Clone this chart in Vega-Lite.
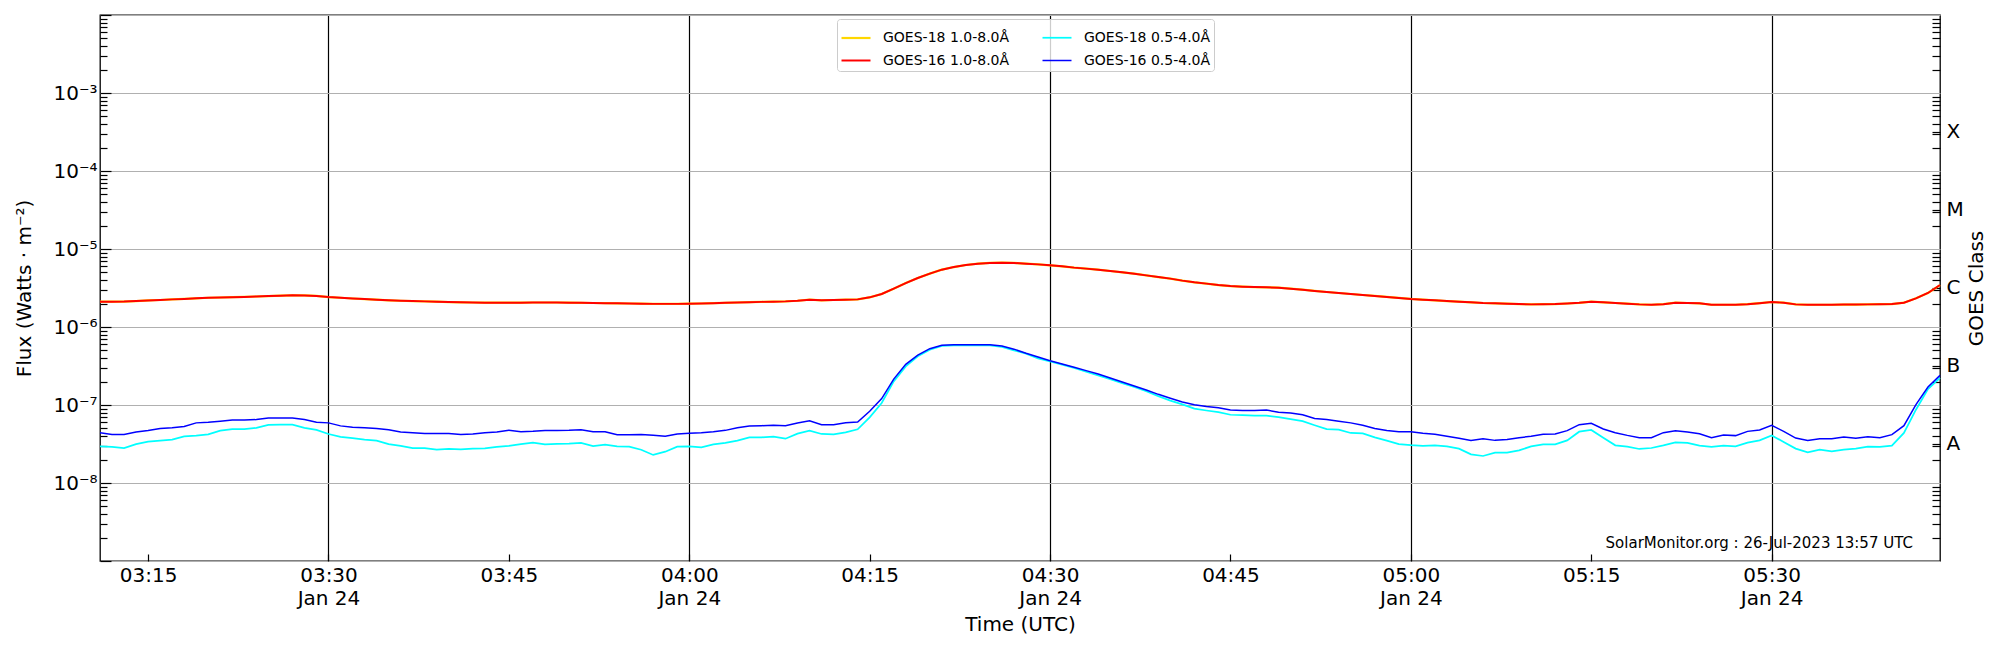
{
  "$schema": "https://vega.github.io/schema/vega-lite/v6.json",
  "autosize": {"type": "none"},
  "padding": {"left": 100, "top": 15, "right": 60, "bottom": 89},
  "width": 1840,
  "height": 546,
  "config": {
    "font": "DejaVu Sans",
    "view": {"stroke": "black", "strokeWidth": 1.3},
    "axis": {
      "domain": false,
      "labelFontSize": 20,
      "titleFontSize": 20,
      "titleFontWeight": "normal",
      "labelColor": "black",
      "titleColor": "black",
      "tickColor": "black",
      "tickWidth": 1.2,
      "labelOverlap": false,
      "labelFlush": false
    }
  },
  "layer": [
    {
      "data": {
        "format": {"parse": {"t": "utc:'%Y-%m-%d %H:%M'"}},
        "values": [
          {"t": "2024-01-24 03:11", "g18l": 2.11e-6, "g16l": 2.11e-6, "g18s": 2.95e-8, "g16s": 4.4e-8},
          {"t": "2024-01-24 03:12", "g18l": 2.11e-6, "g16l": 2.11e-6, "g18s": 2.9e-8, "g16s": 4.2e-8},
          {"t": "2024-01-24 03:13", "g18l": 2.12e-6, "g16l": 2.12e-6, "g18s": 2.8e-8, "g16s": 4.2e-8},
          {"t": "2024-01-24 03:14", "g18l": 2.15e-6, "g16l": 2.15e-6, "g18s": 3.15e-8, "g16s": 4.5e-8},
          {"t": "2024-01-24 03:15", "g18l": 2.19e-6, "g16l": 2.19e-6, "g18s": 3.4e-8, "g16s": 4.7e-8},
          {"t": "2024-01-24 03:16", "g18l": 2.22e-6, "g16l": 2.22e-6, "g18s": 3.5e-8, "g16s": 5.0e-8},
          {"t": "2024-01-24 03:17", "g18l": 2.26e-6, "g16l": 2.26e-6, "g18s": 3.6e-8, "g16s": 5.1e-8},
          {"t": "2024-01-24 03:18", "g18l": 2.29e-6, "g16l": 2.29e-6, "g18s": 3.95e-8, "g16s": 5.3e-8},
          {"t": "2024-01-24 03:19", "g18l": 2.33e-6, "g16l": 2.33e-6, "g18s": 4.05e-8, "g16s": 5.9e-8},
          {"t": "2024-01-24 03:20", "g18l": 2.37e-6, "g16l": 2.37e-6, "g18s": 4.2e-8, "g16s": 6.0e-8},
          {"t": "2024-01-24 03:21", "g18l": 2.39e-6, "g16l": 2.39e-6, "g18s": 4.7e-8, "g16s": 6.2e-8},
          {"t": "2024-01-24 03:22", "g18l": 2.41e-6, "g16l": 2.41e-6, "g18s": 4.9e-8, "g16s": 6.4e-8},
          {"t": "2024-01-24 03:23", "g18l": 2.43e-6, "g16l": 2.43e-6, "g18s": 4.9e-8, "g16s": 6.4e-8},
          {"t": "2024-01-24 03:24", "g18l": 2.46e-6, "g16l": 2.46e-6, "g18s": 5.1e-8, "g16s": 6.5e-8},
          {"t": "2024-01-24 03:25", "g18l": 2.49e-6, "g16l": 2.49e-6, "g18s": 5.55e-8, "g16s": 6.8e-8},
          {"t": "2024-01-24 03:26", "g18l": 2.52e-6, "g16l": 2.52e-6, "g18s": 5.6e-8, "g16s": 6.8e-8},
          {"t": "2024-01-24 03:27", "g18l": 2.55e-6, "g16l": 2.55e-6, "g18s": 5.6e-8, "g16s": 6.8e-8},
          {"t": "2024-01-24 03:28", "g18l": 2.54e-6, "g16l": 2.54e-6, "g18s": 5.1e-8, "g16s": 6.5e-8},
          {"t": "2024-01-24 03:29", "g18l": 2.50e-6, "g16l": 2.50e-6, "g18s": 4.8e-8, "g16s": 6.0e-8},
          {"t": "2024-01-24 03:30", "g18l": 2.42e-6, "g16l": 2.42e-6, "g18s": 4.25e-8, "g16s": 5.9e-8},
          {"t": "2024-01-24 03:31", "g18l": 2.37e-6, "g16l": 2.37e-6, "g18s": 3.9e-8, "g16s": 5.4e-8},
          {"t": "2024-01-24 03:32", "g18l": 2.32e-6, "g16l": 2.32e-6, "g18s": 3.75e-8, "g16s": 5.2e-8},
          {"t": "2024-01-24 03:33", "g18l": 2.28e-6, "g16l": 2.28e-6, "g18s": 3.6e-8, "g16s": 5.1e-8},
          {"t": "2024-01-24 03:34", "g18l": 2.24e-6, "g16l": 2.24e-6, "g18s": 3.5e-8, "g16s": 5.0e-8},
          {"t": "2024-01-24 03:35", "g18l": 2.20e-6, "g16l": 2.20e-6, "g18s": 3.15e-8, "g16s": 4.8e-8},
          {"t": "2024-01-24 03:36", "g18l": 2.17e-6, "g16l": 2.17e-6, "g18s": 3.0e-8, "g16s": 4.5e-8},
          {"t": "2024-01-24 03:37", "g18l": 2.15e-6, "g16l": 2.15e-6, "g18s": 2.8e-8, "g16s": 4.4e-8},
          {"t": "2024-01-24 03:38", "g18l": 2.13e-6, "g16l": 2.13e-6, "g18s": 2.8e-8, "g16s": 4.3e-8},
          {"t": "2024-01-24 03:39", "g18l": 2.11e-6, "g16l": 2.11e-6, "g18s": 2.67e-8, "g16s": 4.3e-8},
          {"t": "2024-01-24 03:40", "g18l": 2.09e-6, "g16l": 2.09e-6, "g18s": 2.73e-8, "g16s": 4.3e-8},
          {"t": "2024-01-24 03:41", "g18l": 2.07e-6, "g16l": 2.07e-6, "g18s": 2.7e-8, "g16s": 4.2e-8},
          {"t": "2024-01-24 03:42", "g18l": 2.06e-6, "g16l": 2.06e-6, "g18s": 2.76e-8, "g16s": 4.25e-8},
          {"t": "2024-01-24 03:43", "g18l": 2.05e-6, "g16l": 2.05e-6, "g18s": 2.78e-8, "g16s": 4.4e-8},
          {"t": "2024-01-24 03:44", "g18l": 2.05e-6, "g16l": 2.05e-6, "g18s": 2.9e-8, "g16s": 4.5e-8},
          {"t": "2024-01-24 03:45", "g18l": 2.05e-6, "g16l": 2.05e-6, "g18s": 3.0e-8, "g16s": 4.75e-8},
          {"t": "2024-01-24 03:46", "g18l": 2.05e-6, "g16l": 2.05e-6, "g18s": 3.15e-8, "g16s": 4.55e-8},
          {"t": "2024-01-24 03:47", "g18l": 2.06e-6, "g16l": 2.06e-6, "g18s": 3.3e-8, "g16s": 4.6e-8},
          {"t": "2024-01-24 03:48", "g18l": 2.06e-6, "g16l": 2.06e-6, "g18s": 3.13e-8, "g16s": 4.7e-8},
          {"t": "2024-01-24 03:49", "g18l": 2.06e-6, "g16l": 2.06e-6, "g18s": 3.17e-8, "g16s": 4.7e-8},
          {"t": "2024-01-24 03:50", "g18l": 2.05e-6, "g16l": 2.05e-6, "g18s": 3.19e-8, "g16s": 4.73e-8},
          {"t": "2024-01-24 03:51", "g18l": 2.04e-6, "g16l": 2.04e-6, "g18s": 3.26e-8, "g16s": 4.83e-8},
          {"t": "2024-01-24 03:52", "g18l": 2.03e-6, "g16l": 2.03e-6, "g18s": 2.98e-8, "g16s": 4.55e-8},
          {"t": "2024-01-24 03:53", "g18l": 2.02e-6, "g16l": 2.02e-6, "g18s": 3.1e-8, "g16s": 4.55e-8},
          {"t": "2024-01-24 03:54", "g18l": 2.01e-6, "g16l": 2.01e-6, "g18s": 2.95e-8, "g16s": 4.17e-8},
          {"t": "2024-01-24 03:55", "g18l": 2.00e-6, "g16l": 2.00e-6, "g18s": 2.92e-8, "g16s": 4.17e-8},
          {"t": "2024-01-24 03:56", "g18l": 1.99e-6, "g16l": 1.99e-6, "g18s": 2.67e-8, "g16s": 4.2e-8},
          {"t": "2024-01-24 03:57", "g18l": 1.98e-6, "g16l": 1.98e-6, "g18s": 2.29e-8, "g16s": 4.08e-8},
          {"t": "2024-01-24 03:58", "g18l": 1.98e-6, "g16l": 1.98e-6, "g18s": 2.52e-8, "g16s": 3.97e-8},
          {"t": "2024-01-24 03:59", "g18l": 1.98e-6, "g16l": 1.98e-6, "g18s": 2.92e-8, "g16s": 4.25e-8},
          {"t": "2024-01-24 04:00", "g18l": 1.99e-6, "g16l": 1.99e-6, "g18s": 2.95e-8, "g16s": 4.33e-8},
          {"t": "2024-01-24 04:01", "g18l": 2.00e-6, "g16l": 2.00e-6, "g18s": 2.87e-8, "g16s": 4.42e-8},
          {"t": "2024-01-24 04:02", "g18l": 2.02e-6, "g16l": 2.02e-6, "g18s": 3.13e-8, "g16s": 4.55e-8},
          {"t": "2024-01-24 04:03", "g18l": 2.04e-6, "g16l": 2.04e-6, "g18s": 3.26e-8, "g16s": 4.73e-8},
          {"t": "2024-01-24 04:04", "g18l": 2.06e-6, "g16l": 2.06e-6, "g18s": 3.49e-8, "g16s": 5.12e-8},
          {"t": "2024-01-24 04:05", "g18l": 2.08e-6, "g16l": 2.08e-6, "g18s": 3.85e-8, "g16s": 5.38e-8},
          {"t": "2024-01-24 04:06", "g18l": 2.10e-6, "g16l": 2.10e-6, "g18s": 3.85e-8, "g16s": 5.43e-8},
          {"t": "2024-01-24 04:07", "g18l": 2.11e-6, "g16l": 2.11e-6, "g18s": 3.93e-8, "g16s": 5.49e-8},
          {"t": "2024-01-24 04:08", "g18l": 2.13e-6, "g16l": 2.13e-6, "g18s": 3.7e-8, "g16s": 5.43e-8},
          {"t": "2024-01-24 04:09", "g18l": 2.17e-6, "g16l": 2.17e-6, "g18s": 4.29e-8, "g16s": 5.87e-8},
          {"t": "2024-01-24 04:10", "g18l": 2.24e-6, "g16l": 2.24e-6, "g18s": 4.69e-8, "g16s": 6.29e-8},
          {"t": "2024-01-24 04:11", "g18l": 2.20e-6, "g16l": 2.20e-6, "g18s": 4.25e-8, "g16s": 5.6e-8},
          {"t": "2024-01-24 04:12", "g18l": 2.22e-6, "g16l": 2.22e-6, "g18s": 4.21e-8, "g16s": 5.6e-8},
          {"t": "2024-01-24 04:13", "g18l": 2.24e-6, "g16l": 2.24e-6, "g18s": 4.46e-8, "g16s": 5.94e-8},
          {"t": "2024-01-24 04:14", "g18l": 2.26e-6, "g16l": 2.26e-6, "g18s": 4.88e-8, "g16s": 6.05e-8},
          {"t": "2024-01-24 04:15", "g18l": 2.40e-6, "g16l": 2.40e-6, "g18s": 6.95e-8, "g16s": 8.3e-8},
          {"t": "2024-01-24 04:16", "g18l": 2.65e-6, "g16l": 2.65e-6, "g18s": 1.06e-7, "g16s": 1.21e-7},
          {"t": "2024-01-24 04:17", "g18l": 3.10e-6, "g16l": 3.10e-6, "g18s": 2.01e-7, "g16s": 2.15e-7},
          {"t": "2024-01-24 04:18", "g18l": 3.66e-6, "g16l": 3.66e-6, "g18s": 3.13e-7, "g16s": 3.32e-7},
          {"t": "2024-01-24 04:19", "g18l": 4.25e-6, "g16l": 4.25e-6, "g18s": 4.21e-7, "g16s": 4.37e-7},
          {"t": "2024-01-24 04:20", "g18l": 4.83e-6, "g16l": 4.83e-6, "g18s": 5.12e-7, "g16s": 5.27e-7},
          {"t": "2024-01-24 04:21", "g18l": 5.43e-6, "g16l": 5.43e-6, "g18s": 5.71e-7, "g16s": 5.82e-7},
          {"t": "2024-01-24 04:22", "g18l": 5.87e-6, "g16l": 5.87e-6, "g18s": 5.82e-7, "g16s": 5.94e-7},
          {"t": "2024-01-24 04:23", "g18l": 6.23e-6, "g16l": 6.23e-6, "g18s": 5.82e-7, "g16s": 5.94e-7},
          {"t": "2024-01-24 04:24", "g18l": 6.48e-6, "g16l": 6.48e-6, "g18s": 5.82e-7, "g16s": 5.94e-7},
          {"t": "2024-01-24 04:25", "g18l": 6.62e-6, "g16l": 6.62e-6, "g18s": 5.82e-7, "g16s": 5.94e-7},
          {"t": "2024-01-24 04:26", "g18l": 6.68e-6, "g16l": 6.68e-6, "g18s": 5.54e-7, "g16s": 5.7e-7},
          {"t": "2024-01-24 04:27", "g18l": 6.62e-6, "g16l": 6.62e-6, "g18s": 5.02e-7, "g16s": 5.2e-7},
          {"t": "2024-01-24 04:28", "g18l": 6.48e-6, "g16l": 6.48e-6, "g18s": 4.55e-7, "g16s": 4.6e-7},
          {"t": "2024-01-24 04:29", "g18l": 6.35e-6, "g16l": 6.35e-6, "g18s": 3.96e-7, "g16s": 4.12e-7},
          {"t": "2024-01-24 04:30", "g18l": 6.18e-6, "g16l": 6.18e-6, "g18s": 3.63e-7, "g16s": 3.7e-7},
          {"t": "2024-01-24 04:31", "g18l": 6.00e-6, "g16l": 6.00e-6, "g18s": 3.29e-7, "g16s": 3.36e-7},
          {"t": "2024-01-24 04:32", "g18l": 5.77e-6, "g16l": 5.77e-6, "g18s": 2.98e-7, "g16s": 3.04e-7},
          {"t": "2024-01-24 04:33", "g18l": 5.60e-6, "g16l": 5.60e-6, "g18s": 2.67e-7, "g16s": 2.76e-7},
          {"t": "2024-01-24 04:34", "g18l": 5.43e-6, "g16l": 5.43e-6, "g18s": 2.40e-7, "g16s": 2.5e-7},
          {"t": "2024-01-24 04:35", "g18l": 5.22e-6, "g16l": 5.22e-6, "g18s": 2.15e-7, "g16s": 2.22e-7},
          {"t": "2024-01-24 04:36", "g18l": 5.02e-6, "g16l": 5.02e-6, "g18s": 1.91e-7, "g16s": 1.97e-7},
          {"t": "2024-01-24 04:37", "g18l": 4.83e-6, "g16l": 4.83e-6, "g18s": 1.70e-7, "g16s": 1.75e-7},
          {"t": "2024-01-24 04:38", "g18l": 4.59e-6, "g16l": 4.59e-6, "g18s": 1.50e-7, "g16s": 1.56e-7},
          {"t": "2024-01-24 04:39", "g18l": 4.37e-6, "g16l": 4.37e-6, "g18s": 1.30e-7, "g16s": 1.37e-7},
          {"t": "2024-01-24 04:40", "g18l": 4.17e-6, "g16l": 4.17e-6, "g18s": 1.14e-7, "g16s": 1.22e-7},
          {"t": "2024-01-24 04:41", "g18l": 3.93e-6, "g16l": 3.93e-6, "g18s": 1.02e-7, "g16s": 1.09e-7},
          {"t": "2024-01-24 04:42", "g18l": 3.74e-6, "g16l": 3.74e-6, "g18s": 8.98e-8, "g16s": 1.01e-7},
          {"t": "2024-01-24 04:43", "g18l": 3.60e-6, "g16l": 3.60e-6, "g18s": 8.5e-8, "g16s": 9.6e-8},
          {"t": "2024-01-24 04:44", "g18l": 3.45e-6, "g16l": 3.45e-6, "g18s": 8.1e-8, "g16s": 9.2e-8},
          {"t": "2024-01-24 04:45", "g18l": 3.35e-6, "g16l": 3.35e-6, "g18s": 7.5e-8, "g16s": 8.6e-8},
          {"t": "2024-01-24 04:46", "g18l": 3.29e-6, "g16l": 3.29e-6, "g18s": 7.4e-8, "g16s": 8.5e-8},
          {"t": "2024-01-24 04:47", "g18l": 3.25e-6, "g16l": 3.25e-6, "g18s": 7.3e-8, "g16s": 8.5e-8},
          {"t": "2024-01-24 04:48", "g18l": 3.23e-6, "g16l": 3.23e-6, "g18s": 7.3e-8, "g16s": 8.6e-8},
          {"t": "2024-01-24 04:49", "g18l": 3.19e-6, "g16l": 3.19e-6, "g18s": 7.0e-8, "g16s": 8.1e-8},
          {"t": "2024-01-24 04:50", "g18l": 3.10e-6, "g16l": 3.10e-6, "g18s": 6.6e-8, "g16s": 7.9e-8},
          {"t": "2024-01-24 04:51", "g18l": 3.01e-6, "g16l": 3.01e-6, "g18s": 6.2e-8, "g16s": 7.5e-8},
          {"t": "2024-01-24 04:52", "g18l": 2.90e-6, "g16l": 2.90e-6, "g18s": 5.5e-8, "g16s": 6.7e-8},
          {"t": "2024-01-24 04:53", "g18l": 2.81e-6, "g16l": 2.81e-6, "g18s": 4.9e-8, "g16s": 6.5e-8},
          {"t": "2024-01-24 04:54", "g18l": 2.73e-6, "g16l": 2.73e-6, "g18s": 4.83e-8, "g16s": 6.2e-8},
          {"t": "2024-01-24 04:55", "g18l": 2.65e-6, "g16l": 2.65e-6, "g18s": 4.38e-8, "g16s": 5.9e-8},
          {"t": "2024-01-24 04:56", "g18l": 2.57e-6, "g16l": 2.57e-6, "g18s": 4.33e-8, "g16s": 5.5e-8},
          {"t": "2024-01-24 04:57", "g18l": 2.50e-6, "g16l": 2.50e-6, "g18s": 3.85e-8, "g16s": 5.0e-8},
          {"t": "2024-01-24 04:58", "g18l": 2.43e-6, "g16l": 2.43e-6, "g18s": 3.49e-8, "g16s": 4.7e-8},
          {"t": "2024-01-24 04:59", "g18l": 2.36e-6, "g16l": 2.36e-6, "g18s": 3.16e-8, "g16s": 4.55e-8},
          {"t": "2024-01-24 05:00", "g18l": 2.29e-6, "g16l": 2.29e-6, "g18s": 3.06e-8, "g16s": 4.55e-8},
          {"t": "2024-01-24 05:01", "g18l": 2.24e-6, "g16l": 2.24e-6, "g18s": 3.0e-8, "g16s": 4.33e-8},
          {"t": "2024-01-24 05:02", "g18l": 2.20e-6, "g16l": 2.20e-6, "g18s": 3.03e-8, "g16s": 4.21e-8},
          {"t": "2024-01-24 05:03", "g18l": 2.15e-6, "g16l": 2.15e-6, "g18s": 2.95e-8, "g16s": 3.97e-8},
          {"t": "2024-01-24 05:04", "g18l": 2.11e-6, "g16l": 2.11e-6, "g18s": 2.76e-8, "g16s": 3.74e-8},
          {"t": "2024-01-24 05:05", "g18l": 2.07e-6, "g16l": 2.07e-6, "g18s": 2.33e-8, "g16s": 3.52e-8},
          {"t": "2024-01-24 05:06", "g18l": 2.03e-6, "g16l": 2.03e-6, "g18s": 2.22e-8, "g16s": 3.7e-8},
          {"t": "2024-01-24 05:07", "g18l": 2.01e-6, "g16l": 2.01e-6, "g18s": 2.45e-8, "g16s": 3.52e-8},
          {"t": "2024-01-24 05:08", "g18l": 1.99e-6, "g16l": 1.99e-6, "g18s": 2.45e-8, "g16s": 3.6e-8},
          {"t": "2024-01-24 05:09", "g18l": 1.97e-6, "g16l": 1.97e-6, "g18s": 2.62e-8, "g16s": 3.81e-8},
          {"t": "2024-01-24 05:10", "g18l": 1.95e-6, "g16l": 1.95e-6, "g18s": 2.95e-8, "g16s": 3.97e-8},
          {"t": "2024-01-24 05:11", "g18l": 1.96e-6, "g16l": 1.96e-6, "g18s": 3.13e-8, "g16s": 4.21e-8},
          {"t": "2024-01-24 05:12", "g18l": 1.97e-6, "g16l": 1.97e-6, "g18s": 3.13e-8, "g16s": 4.25e-8},
          {"t": "2024-01-24 05:13", "g18l": 2.00e-6, "g16l": 2.00e-6, "g18s": 3.52e-8, "g16s": 4.69e-8},
          {"t": "2024-01-24 05:14", "g18l": 2.04e-6, "g16l": 2.04e-6, "g18s": 4.55e-8, "g16s": 5.6e-8},
          {"t": "2024-01-24 05:15", "g18l": 2.11e-6, "g16l": 2.11e-6, "g18s": 4.78e-8, "g16s": 5.82e-8},
          {"t": "2024-01-24 05:16", "g18l": 2.07e-6, "g16l": 2.07e-6, "g18s": 3.81e-8, "g16s": 4.92e-8},
          {"t": "2024-01-24 05:17", "g18l": 2.03e-6, "g16l": 2.03e-6, "g18s": 3.04e-8, "g16s": 4.42e-8},
          {"t": "2024-01-24 05:18", "g18l": 1.99e-6, "g16l": 1.99e-6, "g18s": 2.92e-8, "g16s": 4.08e-8},
          {"t": "2024-01-24 05:19", "g18l": 1.95e-6, "g16l": 1.95e-6, "g18s": 2.73e-8, "g16s": 3.81e-8},
          {"t": "2024-01-24 05:20", "g18l": 1.93e-6, "g16l": 1.93e-6, "g18s": 2.81e-8, "g16s": 3.81e-8},
          {"t": "2024-01-24 05:21", "g18l": 1.96e-6, "g16l": 1.96e-6, "g18s": 3.04e-8, "g16s": 4.42e-8},
          {"t": "2024-01-24 05:22", "g18l": 2.05e-6, "g16l": 2.05e-6, "g18s": 3.32e-8, "g16s": 4.69e-8},
          {"t": "2024-01-24 05:23", "g18l": 2.03e-6, "g16l": 2.03e-6, "g18s": 3.26e-8, "g16s": 4.51e-8},
          {"t": "2024-01-24 05:24", "g18l": 2.01e-6, "g16l": 2.01e-6, "g18s": 3.01e-8, "g16s": 4.29e-8},
          {"t": "2024-01-24 05:25", "g18l": 1.93e-6, "g16l": 1.93e-6, "g18s": 2.9e-8, "g16s": 3.81e-8},
          {"t": "2024-01-24 05:26", "g18l": 1.93e-6, "g16l": 1.93e-6, "g18s": 3.01e-8, "g16s": 4.12e-8},
          {"t": "2024-01-24 05:27", "g18l": 1.93e-6, "g16l": 1.93e-6, "g18s": 2.95e-8, "g16s": 4.05e-8},
          {"t": "2024-01-24 05:28", "g18l": 1.96e-6, "g16l": 1.96e-6, "g18s": 3.29e-8, "g16s": 4.59e-8},
          {"t": "2024-01-24 05:29", "g18l": 2.02e-6, "g16l": 2.02e-6, "g18s": 3.52e-8, "g16s": 4.78e-8},
          {"t": "2024-01-24 05:30", "g18l": 2.09e-6, "g16l": 2.09e-6, "g18s": 4.08e-8, "g16s": 5.49e-8},
          {"t": "2024-01-24 05:31", "g18l": 2.05e-6, "g16l": 2.05e-6, "g18s": 3.36e-8, "g16s": 4.59e-8},
          {"t": "2024-01-24 05:32", "g18l": 1.95e-6, "g16l": 1.95e-6, "g18s": 2.76e-8, "g16s": 3.77e-8},
          {"t": "2024-01-24 05:33", "g18l": 1.93e-6, "g16l": 1.93e-6, "g18s": 2.47e-8, "g16s": 3.52e-8},
          {"t": "2024-01-24 05:34", "g18l": 1.93e-6, "g16l": 1.93e-6, "g18s": 2.67e-8, "g16s": 3.7e-8},
          {"t": "2024-01-24 05:35", "g18l": 1.93e-6, "g16l": 1.93e-6, "g18s": 2.55e-8, "g16s": 3.7e-8},
          {"t": "2024-01-24 05:36", "g18l": 1.94e-6, "g16l": 1.94e-6, "g18s": 2.67e-8, "g16s": 3.89e-8},
          {"t": "2024-01-24 05:37", "g18l": 1.94e-6, "g16l": 1.94e-6, "g18s": 2.76e-8, "g16s": 3.74e-8},
          {"t": "2024-01-24 05:38", "g18l": 1.95e-6, "g16l": 1.95e-6, "g18s": 2.92e-8, "g16s": 3.93e-8},
          {"t": "2024-01-24 05:39", "g18l": 1.96e-6, "g16l": 1.96e-6, "g18s": 2.9e-8, "g16s": 3.81e-8},
          {"t": "2024-01-24 05:40", "g18l": 1.97e-6, "g16l": 1.97e-6, "g18s": 3.01e-8, "g16s": 4.17e-8},
          {"t": "2024-01-24 05:41", "g18l": 2.05e-6, "g16l": 2.05e-6, "g18s": 4.38e-8, "g16s": 5.43e-8},
          {"t": "2024-01-24 05:42", "g18l": 2.33e-6, "g16l": 2.33e-6, "g18s": 8.7e-8, "g16s": 1.01e-7},
          {"t": "2024-01-24 05:43", "g18l": 2.73e-6, "g16l": 2.73e-6, "g18s": 1.6e-7, "g16s": 1.7e-7},
          {"t": "2024-01-24 05:44", "g18l": 3.45e-6, "g16l": 3.45e-6, "g18s": 2.22e-7, "g16s": 2.4e-7}
        ]
      },
      "transform": [
        {"fold": ["g18l", "g16l", "g18s", "g16s"], "as": ["series", "flux"]}
      ],
      "mark": {"type": "line", "interpolate": "linear"},
      "encoding": {
        "x": {
          "field": "t",
          "type": "temporal",
          "scale": {
            "type": "utc",
            "nice": false,
            "domain": [
              {"year": 2024, "month": 1, "date": 24, "hours": 3, "minutes": 11, "utc": true},
              {"year": 2024, "month": 1, "date": 24, "hours": 5, "minutes": 44, "utc": true}
            ]
          },
          "axis": {
            "orient": "bottom",
            "values": [
              {"year": 2024, "month": 1, "date": 24, "hours": 3, "minutes": 15, "utc": true},
              {"year": 2024, "month": 1, "date": 24, "hours": 3, "minutes": 30, "utc": true},
              {"year": 2024, "month": 1, "date": 24, "hours": 3, "minutes": 45, "utc": true},
              {"year": 2024, "month": 1, "date": 24, "hours": 4, "minutes": 0, "utc": true},
              {"year": 2024, "month": 1, "date": 24, "hours": 4, "minutes": 15, "utc": true},
              {"year": 2024, "month": 1, "date": 24, "hours": 4, "minutes": 30, "utc": true},
              {"year": 2024, "month": 1, "date": 24, "hours": 4, "minutes": 45, "utc": true},
              {"year": 2024, "month": 1, "date": 24, "hours": 5, "minutes": 0, "utc": true},
              {"year": 2024, "month": 1, "date": 24, "hours": 5, "minutes": 15, "utc": true},
              {"year": 2024, "month": 1, "date": 24, "hours": 5, "minutes": 30, "utc": true}
            ],
            "labelExpr": "utcminutes(datum.value) % 30 == 0 ? [utcFormat(datum.value, '%H:%M'), utcFormat(datum.value, '%b %d')] : utcFormat(datum.value, '%H:%M')",
            "labelLineHeight": 23,
            "tickSize": -7,
            "labelPadding": 11,
            "grid": true,
            "gridColor": "black",
            "gridWidth": 1.2,
            "gridOpacity": {"condition": {"test": "utcminutes(datum.value) % 30 == 0", "value": 1}, "value": 0},
            "title": "Time (UTC)",
            "titleX": 920,
            "titleY": 63,
            "titleBaseline": "middle",
            "titleAlign": "center"
          }
        },
        "y": {
          "field": "flux",
          "type": "quantitative",
          "scale": {"type": "log", "domain": [1e-9, 1e-2], "nice": false},
          "axis": {
            "orient": "left",
            "values": [1e-9, 2e-9, 3e-9, 4e-9, 5e-9, 6e-9, 7e-9, 8e-9, 9e-9,
                       1e-8, 2e-8, 3e-8, 4e-8, 5e-8, 6e-8, 7e-8, 8e-8, 9e-8,
                       1e-7, 2e-7, 3e-7, 4e-7, 5e-7, 6e-7, 7e-7, 8e-7, 9e-7,
                       1e-6, 2e-6, 3e-6, 4e-6, 5e-6, 6e-6, 7e-6, 8e-6, 9e-6,
                       1e-5, 2e-5, 3e-5, 4e-5, 5e-5, 6e-5, 7e-5, 8e-5, 9e-5,
                       1e-4, 2e-4, 3e-4, 4e-4, 5e-4, 6e-4, 7e-4, 8e-4, 9e-4,
                       1e-3, 2e-3, 3e-3, 4e-3, 5e-3, 6e-3, 7e-3, 8e-3, 9e-3, 1e-2],
            "labelExpr": "abs(log(datum.value)/LN10 - round(log(datum.value)/LN10)) < 0.001 && datum.value > 5e-9 && datum.value < 5e-3 ? '10⁻' + ['', '', '', '³', '⁴', '⁵', '⁶', '⁷', '⁸'][-round(log(datum.value)/LN10)] : ''",
            "tickSize": {"condition": {"test": "abs(log(datum.value)/LN10 - round(log(datum.value)/LN10)) < 0.001", "value": -11}, "value": -7},
            "labelPadding": 14,
            "grid": true,
            "gridColor": "#b0b0b0",
            "gridWidth": 1,
            "gridOpacity": {"condition": {"test": "abs(log(datum.value)/LN10 - round(log(datum.value)/LN10)) < 0.001", "value": 1}, "value": 0},
            "title": "Flux (Watts · m⁻²)",
            "titleX": -76,
            "titleY": 273,
            "titleBaseline": "middle",
            "titleAlign": "center"
          }
        },
        "color": {
          "field": "series",
          "type": "nominal",
          "scale": {
            "domain": ["g18l", "g16l", "g18s", "g16s"],
            "range": ["#ffd700", "#ff0000", "#00ffff", "#0000ff"]
          },
          "legend": {
            "orient": "none",
            "legendX": 737,
            "legendY": 4,
            "columns": 2,
            "title": null,
            "symbolType": "stroke",
            "symbolSize": 841,
            "symbolStrokeWidth": 1.5,
            "labelFontSize": 14,
            "labelColor": "black",
            "labelOffset": 11,
            "columnPadding": 29,
            "rowPadding": -6,
            "padding": 3,
            "fillColor": "rgba(255,255,255,0.8)",
            "strokeColor": "#cccccc",
            "cornerRadius": 3,
            "labelExpr": "datum.value == 'g18l' ? 'GOES-18 1.0-8.0Å' : datum.value == 'g16l' ? 'GOES-16 1.0-8.0Å' : datum.value == 'g18s' ? 'GOES-18 0.5-4.0Å' : 'GOES-16 0.5-4.0Å'"
          }
        },
        "strokeWidth": {
          "field": "series",
          "type": "nominal",
          "scale": {"domain": ["g18l", "g16l", "g18s", "g16s"], "range": [2.2, 1.5, 1.5, 1.5]},
          "legend": null
        }
      }
    },
    {
      "data": {
        "format": {"parse": {"t": "utc:'%Y-%m-%d %H:%M:%S'"}},
        "values": [
          {"t": "2024-01-24 05:41:45", "v": 1.7e-9, "note": "SolarMonitor.org : 26-Jul-2023 13:57 UTC"}
        ]
      },
      "mark": {"type": "text", "align": "right", "baseline": "middle", "fontSize": 15, "color": "black"},
      "encoding": {
        "x": {"field": "t", "type": "temporal", "axis": null},
        "y": {
          "field": "v",
          "type": "quantitative",
          "scale": {"type": "log", "domain": [1e-9, 1e-2], "nice": false},
          "axis": {
            "orient": "right",
            "values": [2e-9, 3e-9, 4e-9, 5e-9, 6e-9, 7e-9, 8e-9, 9e-9,
                       2e-8, 3e-8, 3.1623e-8, 4e-8, 5e-8, 6e-8, 7e-8, 8e-8, 9e-8,
                       2e-7, 3e-7, 3.1623e-7, 4e-7, 5e-7, 6e-7, 7e-7, 8e-7, 9e-7,
                       2e-6, 3e-6, 3.1623e-6, 4e-6, 5e-6, 6e-6, 7e-6, 8e-6, 9e-6,
                       2e-5, 3e-5, 3.1623e-5, 4e-5, 5e-5, 6e-5, 7e-5, 8e-5, 9e-5,
                       2e-4, 3e-4, 3.1623e-4, 4e-4, 5e-4, 6e-4, 7e-4, 8e-4, 9e-4,
                       2e-3, 3e-3, 4e-3, 5e-3, 6e-3, 7e-3, 8e-3, 9e-3],
            "labelExpr": "abs(log(datum.value)/LN10 + 3.5) < 0.01 ? 'X' : abs(log(datum.value)/LN10 + 4.5) < 0.01 ? 'M' : abs(log(datum.value)/LN10 + 5.5) < 0.01 ? 'C' : abs(log(datum.value)/LN10 + 6.5) < 0.01 ? 'B' : abs(log(datum.value)/LN10 + 7.5) < 0.01 ? 'A' : ''",
            "tickSize": -8,
            "labelPadding": 14,
            "grid": false,
            "title": "GOES Class",
            "titleAngle": 270,
            "titleX": 36,
            "titleY": 273,
            "titleBaseline": "middle",
            "titleAlign": "center"
          }
        },
        "text": {"field": "note"}
      }
    }
  ],
  "resolve": {"axis": {"x": "independent", "y": "independent"}}
}
